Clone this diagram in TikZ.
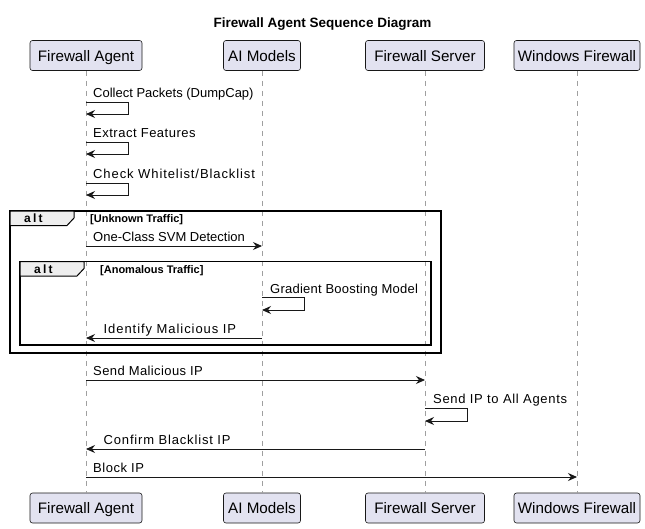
\documentclass[tikz,border=0pt]{standalone}
\usepackage{fontspec}
\setmainfont{Liberation Sans}
\usetikzlibrary{arrows.meta}

\definecolor{partfill}{HTML}{E2E2F0}
\definecolor{ink}{HTML}{181818}
\definecolor{tabfill}{HTML}{EEEEEE}

\tikzset{
  part/.style={draw=ink, fill=partfill, rounded corners=2.5pt, minimum height=30pt,
    line width=0.6pt, inner sep=0pt, text height=11pt, text depth=0pt,
    font=\fontsize{15.2}{17}\selectfont},
  life/.style={draw=gray!75, line width=0.8pt, dash pattern=on 5pt off 5pt},
  msg/.style={draw=ink, line width=0.9pt, -{Stealth[length=9pt,width=8pt,inset=3pt]}},
  % message text, the argument is the letter spacing
  msgtext/.style={anchor=base west, inner sep=0pt,
    font=\fontsize{13}{15}\selectfont\addfontfeature{LetterSpace=#1}},
  msgtext/.default=0,
  frame/.style={draw=black, line width=1.5pt},
  tab/.style={draw=black, fill=tabfill, line width=1pt},
  guard/.style={anchor=base west, inner sep=0pt, font=\bfseries\fontsize{11}{13}\selectfont},
  altlabel/.style={anchor=base west, inner sep=0pt, font=\bfseries\fontsize{12}{14}\selectfont}
}

\begin{document}
\begin{tikzpicture}[x=1pt, y=-1pt]

    % Fix the page to the size of the reference
    \useasboundingbox (0,0) rectangle (645,528);

    % Define the x position of each lifeline
    \def\xFA{86}
    \def\xAI{262}
    \def\xFS{425}
    \def\xWF{577}
    % Width of a self message loop
    \def\L{42}

    % Title
    \node[anchor=base, inner sep=0pt, font=\bfseries\fontsize{13.5}{16}\selectfont] (title) at (322.5,27) {Firewall Agent Sequence Diagram};

    % Participants at the top
    \node[part, minimum width=112pt] (fa) at (\xFA,55.5) {Firewall Agent};
    \node[part, minimum width=77pt] (ai) at (\xAI,55.5) {AI Models};
    \node[part, minimum width=119pt] (fs) at (\xFS,55.5) {Firewall Server};
    \node[part, minimum width=126pt] (wf) at (\xWF,55.5) {Windows Firewall};

    % Participants at the bottom
    \node[part, minimum width=112pt] (fab) at (\xFA,508) {Firewall Agent};
    \node[part, minimum width=77pt] (aib) at (\xAI,508) {AI Models};
    \node[part, minimum width=119pt] (fsb) at (\xFS,508) {Firewall Server};
    \node[part, minimum width=126pt] (wfb) at (\xWF,508) {Windows Firewall};

    % Lifelines
    \draw[life] (fa) -- (fab);
    \draw[life] (ai) -- (aib);
    \draw[life] (fs) -- (fsb);
    \draw[life] (wf) -- (wfb);

    % Self messages of the agent
    \coordinate (m1a) at (\xFA,102);
    \coordinate (m1b) at (\xFA,114);
    \node[msgtext] (t1) at (93,97) {Collect Packets (DumpCap)};
    \draw[msg] (m1a) -- ++(\L,0) |- (m1b);

    \coordinate (m2a) at (\xFA,142);
    \coordinate (m2b) at (\xFA,154);
    \node[msgtext=3.9] (t2) at (93,137.5) {Extract Features};
    \draw[msg] (m2a) -- ++(\L,0) |- (m2b);

    \coordinate (m3a) at (\xFA,183);
    \coordinate (m3b) at (\xFA,195);
    \node[msgtext=7] (t3) at (93,178.5) {Check Whitelist/Blacklist};
    \draw[msg] (m3a) -- ++(\L,0) |- (m3b);

    % Outer alt frame
    \draw[frame] (10,211) rectangle (441,353);
    \draw[tab] (10,211) -- (74,211) -- (74,218) -- (67,225.5) -- (10,225.5) -- cycle;
    \node[altlabel] (alt1) at (24,222.5) {a\kern2.2pt l\kern2.2pt t};
    \node[guard] (g1) at (90,222.5) {[Unknown Traffic]};

    % Agent asks the models
    \coordinate (m4a) at (\xFA,246);
    \coordinate (m4b) at (\xAI,246);
    \node[msgtext] (t4) at (93,241.5) {One-Class SVM Detection};
    \draw[msg] (m4a) -- (m4b);

    % Inner alt frame
    \draw[frame] (20,261.5) rectangle (431,345);
    \draw[tab] (20,261.5) -- (84,261.5) -- (84,268.5) -- (77,276) -- (20,276) -- cycle;
    \node[altlabel] (alt2) at (34,273) {a\kern2.2pt l\kern2.2pt t};
    \node[guard] (g2) at (100,273) {[Anomalous Traffic]};

    % Self message of the models
    \coordinate (m5a) at (\xAI,297.5);
    \coordinate (m5b) at (\xAI,310);
    \node[msgtext=1.8] (t5) at (270,293) {Gradient Boosting Model};
    \draw[msg] (m5a) -- ++(\L,0) |- (m5b);

    % Models answer the agent
    \coordinate (m6a) at (\xAI,338);
    \coordinate (m6b) at (\xFA,338);
    \node[msgtext=7.2] (t6) at (103.5,333.5) {Identify Malicious IP};
    \draw[msg] (m6a) -- (m6b);

    % Agent reports to the server
    \coordinate (m7a) at (\xFA,380);
    \coordinate (m7b) at (\xFS,380);
    \node[msgtext=3.1] (t7) at (93,375.5) {Send Malicious IP};
    \draw[msg] (m7a) -- (m7b);

    % Server spreads the IP
    \coordinate (m8a) at (\xFS,408);
    \coordinate (m8b) at (\xFS,421);
    \node[msgtext=5.3] (t8) at (433,403.5) {Send IP to All Agents};
    \draw[msg] (m8a) -- ++(\L,0) |- (m8b);

    % Server confirms
    \coordinate (m9a) at (\xFS,449);
    \coordinate (m9b) at (\xFA,449);
    \node[msgtext=6.4] (t9) at (103.5,444.5) {Confirm Blacklist IP};
    \draw[msg] (m9a) -- (m9b);

    % Agent blocks the IP
    \coordinate (m10a) at (\xFA,477);
    \coordinate (m10b) at (\xWF,477);
    \node[msgtext=4] (t10) at (93,472.5) {Block IP};
    \draw[msg] (m10a) -- (m10b);

\end{tikzpicture}
\end{document}
